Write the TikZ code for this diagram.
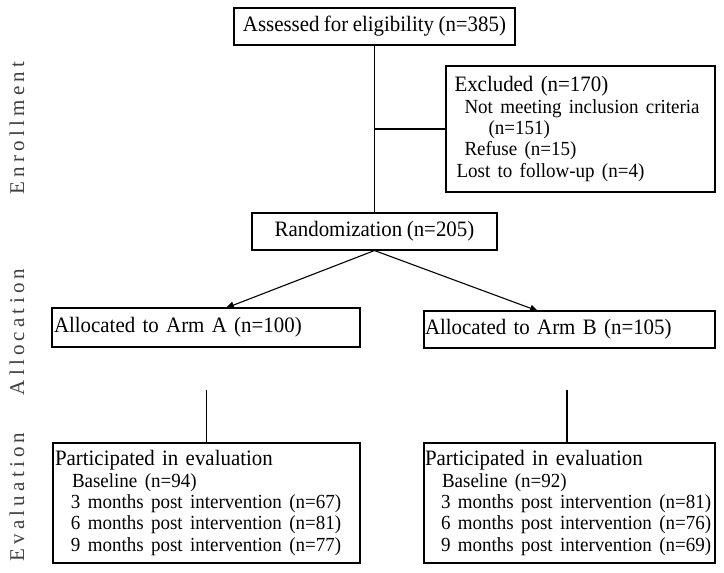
\documentclass[tikz,border=0pt]{standalone}
\usepackage{fontspec}
\setmainfont{Liberation Serif}[FakeStretch=0.95, WordSpace=0.85]
\newfontfamily\sidefont{Liberation Serif}[LetterSpace=20]
\newcommand{\itemfont}{\fontsize{20}{21.3}\selectfont}
\usetikzlibrary{shapes, arrows.meta, positioning}

\begin{document}
\begin{tikzpicture}[x=1pt, y=1pt, node distance=100pt, every node/.style={font=\fontsize{22}{21.3}\selectfont}]
    \tikzstyle{process} = [rectangle, draw, line width=1.1pt, text centered, minimum height=37pt, inner sep=2pt]
    \tikzstyle{listbox} = [rectangle, draw, line width=1.1pt, align=left, inner xsep=2pt, inner ysep=0pt]
    \tikzstyle{phase} = [rotate=90, font=\sidefont\fontsize{21}{22}\selectfont, text=black!75]
    \tikzstyle{arrow} = [line width=1.1pt, -{Triangle[length=8pt, width=7pt]}]
    \tikzstyle{line} = [line width=1.1pt]

    \useasboundingbox (0,0) rectangle (724,573);

    \node (assess) [process, minimum width=281pt] at (374.5,546.5) {Assessed for eligibility (n=385)};
    \node (random) [process, minimum width=245pt, below of=assess, node distance=205pt] {Randomization (n=205)};
    \node (excluded) [listbox, text width=252pt, inner xsep=8.5pt, minimum height=126pt, below of=assess, node distance=102.5pt, xshift=206pt] {Excluded (n=170)\\
        \itemfont\hspace*{10pt}Not meeting inclusion criteria\\
        \itemfont\hspace*{34pt}(n=151)\\
        \itemfont\hspace*{10pt}Refuse (n=15)\\
        \itemfont\hspace*{2pt}Lost to follow-up (n=4)};
    \node (armA) [listbox, text width=304pt, minimum height=39pt, below of=random, node distance=96pt, xshift=-168.5pt] {Allocated to Arm A (n=100)};
    \node (armB) [listbox, text width=289pt, inner xsep=1pt, minimum height=37pt, below of=random, node distance=98pt, xshift=195pt] {Allocated to Arm B (n=105)};
    \node (evalA) [listbox, text width=303pt, minimum height=120pt, below of=armA, node distance=175.5pt, xshift=0.5pt] {Participated in evaluation\\
        \itemfont\hspace*{17pt}Baseline (n=94)\\
        \itemfont\hspace*{16pt}3 months post intervention (n=67)\\
        \itemfont\hspace*{16pt}6 months post intervention (n=81)\\
        \itemfont\hspace*{16pt}9 months post intervention (n=77)};
    \node (evalB) [listbox, text width=289pt, inner xsep=1pt, minimum height=120pt, below of=armB, node distance=173.5pt] {Participated in evaluation\\
        \itemfont\hspace*{17pt}Baseline (n=92)\\
        \itemfont\hspace*{16pt}3 months post intervention (n=81)\\
        \itemfont\hspace*{16pt}6 months post intervention (n=76)\\
        \itemfont\hspace*{16pt}9 months post intervention (n=69)};

    % Phases
    \node (enrol) [phase] at (17,445) {Enrollment};
    \node (alloc) [phase] at (17,241) {Allocation};
    \node (evalu) [phase] at (17,76) {Evaluation};

    % Lines
    \coordinate (downA) at (206.5,183);
    \coordinate (downB) at (567,183);
    \draw [line] (assess) -- (random);
    \draw [line] (assess.south |- excluded.west) -- (excluded.west);
    \draw [arrow] (random.south) -- (226,265);
    \draw [arrow] (random.south) -- (538,262);
    \draw [line] (downA) -- (downA |- evalA.north);
    \draw [line] (downB) -- (downB |- evalB.north);
\end{tikzpicture}
\end{document}
